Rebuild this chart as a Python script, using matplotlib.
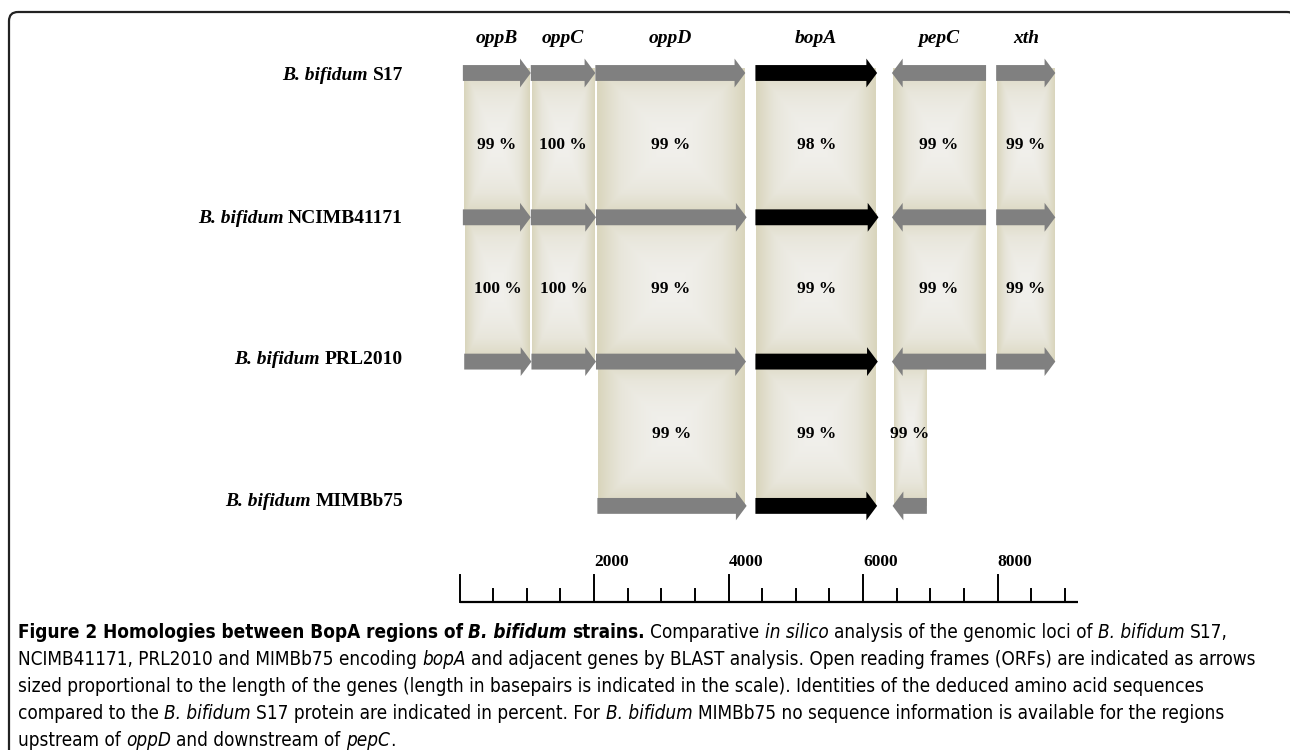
import numpy as np
import matplotlib
matplotlib.use('Agg')
import matplotlib.pyplot as plt
from matplotlib.patches import FancyArrow, FancyBboxPatch
from matplotlib.colors import LinearSegmentedColormap
from matplotlib import font_manager
import matplotlib.transforms as mtransforms

# ---- data (positions in bp) ----
strains = ['S17', 'NCIMB41171', 'PRL2010', 'MIMBb75']
genes = ['oppB', 'oppC', 'oppD', 'bopA', 'pepC', 'xth']
strand = [1, 1, 1, 1, -1, 1]
gene_start = [
    [50, 1060, 2020, 4400, 6430, 7980],
    [50, 1060, 2030, 4400, 6430, 7980],
    [70, 1070, 2030, 4400, 6430, 7980],
    [None, None, 2050, 4400, 6440, None],
]
gene_end = [
    [1060, 2020, 4250, 6210, 7830, 8860],
    [1060, 2030, 4270, 6230, 7830, 8860],
    [1070, 2030, 4260, 6220, 7830, 8860],
    [None, None, 4270, 6210, 6950, None],
]
# identity (%) between strain i and strain i+1
identity = [
    [99, 100, 99, 98, 99, 99],
    [100, 100, 99, 99, 99, 99],
    [None, None, 99, 99, 99, None],
]
scale_max = 9200
scale_minor = 500
scale_labels = [2000, 4000, 6000, 8000]

caption = [
    [("Figure 2 Homologies between BopA regions of", 'bold', 'normal', False),
     ("B. bifidum", 'bold', 'italic', True), ("strains.", 'bold', 'normal', True),
     ("Comparative", 'normal', 'normal', True), ("in silico", 'normal', 'italic', True),
     ("analysis of the genomic loci of", 'normal', 'normal', True),
     ("B. bifidum", 'normal', 'italic', True), ("S17,", 'normal', 'normal', True)],
    [("NCIMB41171, PRL2010 and MIMBb75 encoding", 'normal', 'normal', False),
     ("bopA", 'normal', 'italic', True),
     ("and adjacent genes by BLAST analysis. Open reading frames (ORFs) are indicated as arrows", 'normal', 'normal', True)],
    [("sized proportional to the length of the genes (length in basepairs is indicated in the scale). Identities of the deduced amino acid sequences", 'normal', 'normal', False)],
    [("compared to the", 'normal', 'normal', False), ("B. bifidum", 'normal', 'italic', True),
     ("S17 protein are indicated in percent. For", 'normal', 'normal', True),
     ("B. bifidum", 'normal', 'italic', True),
     ("MIMBb75 no sequence information is available for the regions", 'normal', 'normal', True)],
    [("upstream of", 'normal', 'normal', False), ("oppD", 'normal', 'italic', True),
     ("and downstream of", 'normal', 'normal', True), ("pepC", 'normal', 'italic', True),
     (".", 'normal', 'normal', False)],
]

# ---- layout ----
W, H = 1290, 750
PX0, PXBP = 459.5, 0.06725      # pixel of 0 bp, pixels per bp
ROW0, ROWPX = 73, 144.3         # pixel of first row, pixels per row
serif = 'Liberation Serif'

# caption font: a narrow sans if one is installed
cap_font, cap_stretch = 'Roboto', 'normal'
for f in font_manager.fontManager.ttflist:
    if f.name == 'Liberation Sans Narrow':
        cap_font, cap_stretch = f.name, 'normal'
        break
    if f.name == 'DejaVu Sans' and 'ondensed' in f.fname:
        cap_font, cap_stretch = 'DejaVu Sans', 'condensed'

fig = plt.figure(figsize=(W / 100, H / 100), dpi=100)
bg = fig.add_axes([0, 0, 1, 1])
bg.set_xlim(0, W)
bg.set_ylim(H, 0)
bg.axis('off')
bg.add_patch(FancyBboxPatch((9, 12), 1287, 900, boxstyle='round,pad=0,rounding_size=9',
                            fill=False, ec='#222222', lw=1.6))

ax = fig.add_axes([0, 0, 1, 1])
ax.patch.set_alpha(0)
ax.axis('off')
xlim = (-PX0 / PXBP, (W - PX0) / PXBP)
ylim = ((H - ROW0) / ROWPX, -ROW0 / ROWPX)

cmap = LinearSegmentedColormap.from_list('beige', ['#f1f0ec', '#e8e6db', '#d9d5bc'])
uu = np.linspace(-1, 1, 120)
U, V = np.meshgrid(uu, uu)
grad = np.maximum(np.abs(U), np.abs(V)) ** 1.8

# homology boxes
for i, row in enumerate(identity):
    for g, pct in enumerate(row):
        if pct is None:
            continue
        x0 = max(gene_start[i][g], gene_start[i + 1][g]) + 15
        x1 = min(gene_end[i][g], gene_end[i + 1][g]) - 15
        ax.imshow(grad, cmap=cmap, vmin=0, vmax=1, extent=(x0, x1, i + 1, i - 0.03),
                  aspect='auto', interpolation='bilinear', zorder=1)
        ax.text((x0 + x1) / 2, i + 0.5, f'{pct} %', ha='center', va='center',
                family=serif, weight='bold', fontsize=12.5, zorder=4)

# arrows
for i in range(len(strains)):
    for g in range(len(genes)):
        s, e = gene_start[i][g], gene_end[i][g]
        if s is None:
            continue
        col = 'black' if genes[g] == 'bopA' else '#808080'
        x, dx = (s, e - s) if strand[g] > 0 else (e, s - e)
        ax.add_patch(FancyArrow(x, i, dx, 0, width=0.11, head_width=0.2, head_length=160,
                                length_includes_head=True, color=col, lw=0, zorder=3))

# gene names
for g, name in enumerate(genes):
    ax.text((gene_start[0][g] + gene_end[0][g]) / 2, -0.24, name, ha='center', va='center',
            family=serif, weight='bold', style='italic', fontsize=14)

# scale bar
ys = 3.664
ax.plot([0, scale_max], [ys, ys], color='black', lw=1.6, solid_capstyle='butt')
for t in range(0, scale_max, scale_minor):
    h = 0.187 if t % 2000 == 0 else 0.09
    ax.plot([t, t], [ys, ys - h], color='black', lw=1.4)
for t in scale_labels:
    ax.text(t, ys - 0.245, str(t), ha='left', va='baseline', family=serif,
            weight='bold', fontsize=12.5)

ax.set_xlim(*xlim)
ax.set_ylim(*ylim)

# ---- mixed-style text runs ----
fig.canvas.draw()
rend = fig.canvas.get_renderer()
ident = mtransforms.IdentityTransform()


def width(s, **kw):
    t = fig.text(0, 0, s, transform=ident, **kw)
    w = t.get_window_extent(rend).width
    t.remove()
    return w


def runs(x, y, parts, size, family, ha='left', stretch='normal'):
    kw = dict(family=family, fontsize=size, stretch=stretch)
    sp = width('a a', **kw) - width('aa', **kw)
    ws = [width(p[0], weight=p[1], style=p[2], **kw) for p in parts]
    total = sum(ws) + sp * sum(1 for p in parts if p[3])
    if ha == 'right':
        x -= total
    for p, w in zip(parts, ws):
        if p[3]:
            x += sp
        fig.text(x, y, p[0], transform=ident, weight=p[1], style=p[2], va='baseline', **kw)
        x += w


label_base = [80, 223, 364, 506]
for i, s in enumerate(strains):
    runs(403, H - label_base[i],
         [("B. bifidum", 'bold', 'italic', False), (s, 'bold', 'normal', True)],
         14, serif, ha='right')

# fit caption size so that the second line spans the text block
ref = caption[1]
ckw = dict(family=cap_font, fontsize=10, stretch=cap_stretch)
w10 = sum(width(p[0], weight=p[1], style=p[2], **ckw) for p in ref)
w10 += 2 * (width('a a', **ckw) - width('aa', **ckw))
csize = 10 * 1242 / w10
for k, line in enumerate(caption):
    runs(18, H - (638 + 27 * k), line, csize, cap_font, stretch=cap_stretch)

fig.savefig('out.png', dpi=100)
